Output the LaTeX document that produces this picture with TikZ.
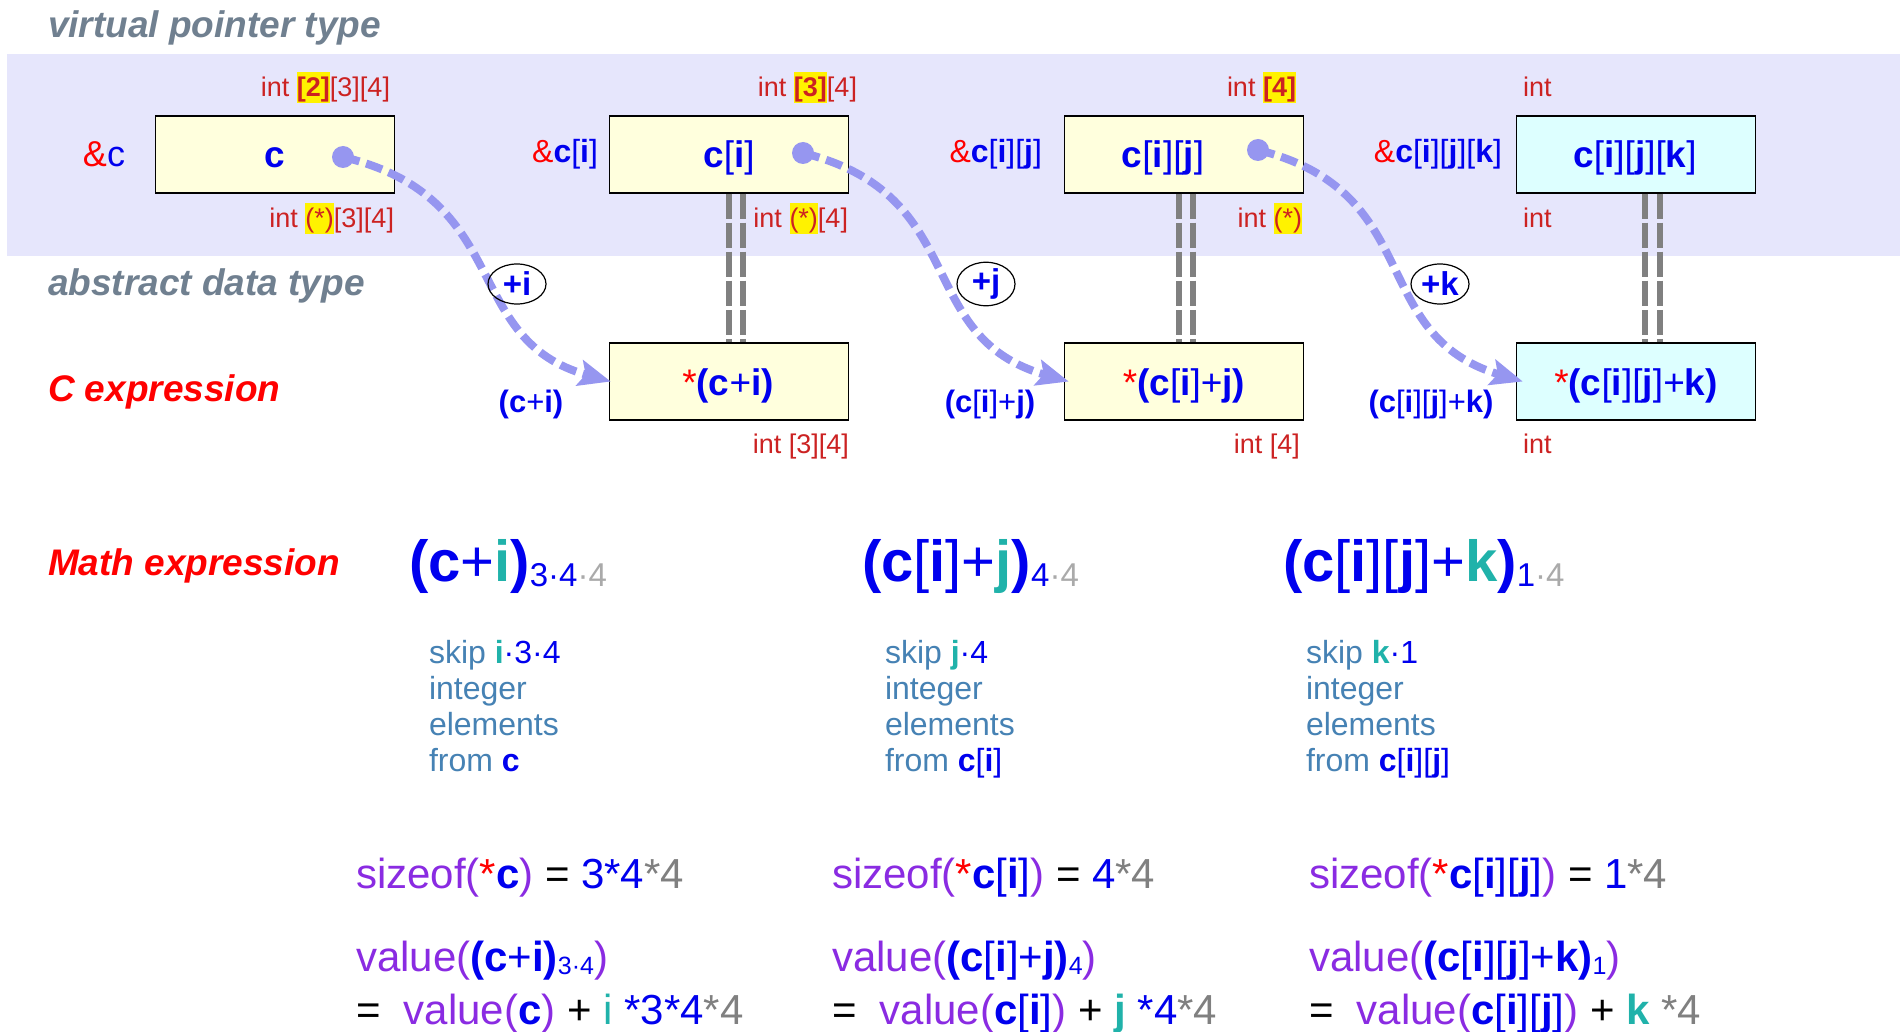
\documentclass[tikz,border=0pt]{standalone}
\usepackage{fontspec}
\setmainfont{Liberation Sans}
\usetikzlibrary{arrows.meta,shapes.geometric}
\definecolor{cblue}{RGB}{0,0,238}
\definecolor{cred}{RGB}{255,0,0}
\definecolor{ired}{RGB}{204,34,34}
\definecolor{teal2}{RGB}{32,178,170}
\definecolor{lgray}{RGB}{170,170,170}
\definecolor{mgray}{RGB}{128,128,128}
\definecolor{purp}{RGB}{138,43,226}
\definecolor{steel}{RGB}{70,130,180}
\definecolor{slate}{RGB}{112,128,144}
\definecolor{bandc}{RGB}{230,230,252}
\definecolor{boxy}{RGB}{255,255,221}
\definecolor{boxc}{RGB}{221,255,255}
\definecolor{ptrc}{RGB}{150,150,240}
\newcommand\fsz[1]{\fontsize{#1}{#1}\selectfont}
\newcommand\hly[1]{{\setlength{\fboxsep}{0pt}\colorbox{yellow}{\rule[-0.22em]{0pt}{1.15em}#1}}}
\newcommand\xci{\textbf{c}[\textbf{i}]}
\newcommand\xcij{\textbf{c}[\textbf{i}][\textbf{j}]}
\newcommand\xcijk{\textbf{c}[\textbf{i}][\textbf{j}][\textbf{k}]}
\tikzset{
  ybox/.style={draw=black, line width=1.5pt, fill=boxy, minimum width=239pt, minimum height=77pt, inner sep=0pt},
  cbox/.style={ybox, fill=boxc},
  lbl/.style={inner sep=0pt, outer sep=0pt},
  title/.style={lbl, anchor=base west, font=\fsz{37}\bfseries\itshape, text=slate},
  rtitle/.style={lbl, anchor=base west, font=\fsz{37}\bfseries\itshape, text=cred},
  tlab/.style={lbl, font=\fsz{27}, text=ired},
  boxtxt/.style={lbl, anchor=base, font=\fsz{37}, text=cblue},
  adr/.style={lbl, anchor=base east, font=\fsz{32}, text=cblue},
  ptr/.style={draw=ptrc, line width=8pt, dash pattern=on 17pt off 7pt, -{Stealth[length=32pt,width=26pt,inset=6pt]}},
  dbl/.style={draw=mgray, line width=6pt, dash pattern=on 25pt off 4pt},
  opell/.style={draw=black, line width=1.2pt, ellipse, minimum width=58pt, minimum height=40pt, inner sep=0pt, font=\fsz{33}\bfseries, text=cblue},
  ptrdot/.style={circle, fill=ptrc, minimum size=22pt, inner sep=0pt},
  mathx/.style={lbl, anchor=base west, font=\fsz{58}, text=cblue},
  skiptxt/.style={lbl, anchor=base west, font=\fsz{32}, text=steel},
  eqtxt/.style={lbl, anchor=base west, font=\fsz{42}, text=black},
  exprl/.style={lbl, anchor=base, font=\fsz{31}, text=cblue},
}
\begin{document}
\begin{tikzpicture}[x=1pt,y=-1pt]
\useasboundingbox (0,0) rectangle (1900,1032);
\fill[white] (0,0) rectangle (1900,1032);
\fill[bandc] (7,54) rectangle (1900,256);

% titles
\node[title] (ttl1) at (48,38) {virtual pointer type};
\node[title] (ttl2) at (48,295) {abstract data type};
\node[rtitle] (ttl3) at (48,401) {C expression};
\node[rtitle] (ttl4) at (48,575) {Math expression};

% boxes
\node[ybox] (b1) at (275,154.5) {};
\node[ybox] (b2) at (729,154.5) {};
\node[ybox] (b3) at (1184,154.5) {};
\node[cbox] (b4) at (1636,154.5) {};
\node[ybox] (b5) at (729,381.5) {};
\node[ybox] (b6) at (1184,381.5) {};
\node[cbox] (b7) at (1636,381.5) {};

% double dashed links
\draw[dbl] ([xshift=-0.5pt]b2.south) -- ([xshift=-0.5pt]b5.north);
\draw[dbl] ([xshift=14pt]b2.south) -- ([xshift=14pt]b5.north);
\draw[dbl] ([xshift=-5pt]b3.south) -- ([xshift=-5pt]b6.north);
\draw[dbl] ([xshift=9pt]b3.south) -- ([xshift=9pt]b6.north);
\draw[dbl] ([xshift=9pt]b4.south) -- ([xshift=9pt]b7.north);
\draw[dbl] ([xshift=24pt]b4.south) -- ([xshift=24pt]b7.north);

% pointer dots
\coordinate (d1) at (343,157);
\coordinate (d2) at (803,153);
\coordinate (d3) at (1258,150);

% pointer curves
\draw[ptr] (d1) .. controls (515,198) and (460,340) .. ([xshift=2pt]b5.west);
\draw[ptr] (d2) .. controls (972,195) and (912,337) .. ([xshift=5pt]b6.west);
\draw[ptr] (d3) .. controls (1427,192) and (1366,335) .. ([xshift=7pt]b7.west);
\node[ptrdot] (p1) at (d1) {};
\node[ptrdot] (p2) at (d2) {};
\node[ptrdot] (p3) at (d3) {};

% operator ellipses
\node[opell] (o1) at (517,284) {+i};
\node[opell] (o2) at (986,284) {+j};
\node[opell] (o3) at (1440,284) {+k};

% box texts
\node[boxtxt] (tb1) at (275,168) {\textbf{c}};
\node[boxtxt] (tb2) at (729,168) {\xci};
\node[boxtxt] (tb3) at (1163,168) {\xcij};
\node[boxtxt] (tb4) at (1635,168) {\xcijk};
\node[boxtxt] (tb5) at (728,395) {\textcolor{cred}{*}\textbf{(c}+\textbf{i)}};
\node[boxtxt] (tb6) at (1184,395) {\textcolor{cred}{*}\textbf{(}\xci+\textbf{j)}};
\node[boxtxt] (tb7) at (1636,395) {\textcolor{cred}{*}\textbf{(}\xcij+\textbf{k)}};

% address labels
\node[lbl, anchor=base east, font=\fsz{36}, text=cblue] (a1) at (125,167) {\textcolor{cred}{\&}c};
\node[adr] (a2) at (598,163) {\textcolor{cred}{\&}\xci};
\node[adr] (a3) at (1042,163) {\textcolor{cred}{\&}\xcij};
\node[adr] (a4) at (1502,163) {\textcolor{cred}{\&}\xcijk};

% type labels
\node[tlab, anchor=base east] (u1) at (390,97) {int \hly{\textbf{[2]}}[3][4]};
\node[tlab, anchor=base east] (u2) at (857,97) {int \hly{\textbf{[3]}}[4]};
\node[tlab, anchor=base east] (u3) at (1296,97) {int \hly{\textbf{[4]}}};
\node[tlab, anchor=base west] (u4) at (1523,97) {int};
\node[tlab, anchor=base east] (v1) at (394,228) {int \hly{(*)}[3][4]};
\node[tlab, anchor=base east] (v2) at (848,228) {int \hly{(*)}[4]};
\node[tlab, anchor=base east] (v3) at (1302,228) {int \hly{(*)}};
\node[tlab, anchor=base west] (v4) at (1523,228) {int};
\node[tlab, anchor=base east] (w1) at (849,453) {int [3][4]};
\node[tlab, anchor=base east] (w2) at (1300,453) {int [4]};
\node[tlab, anchor=base west] (w3) at (1523,453) {int};

% expression labels
\node[exprl] (e1) at (531,412) {\textbf{(c}+\textbf{i)}};
\node[exprl] (e2) at (990,412) {\textbf{(}\xci+\textbf{j)}};
\node[exprl] (e3) at (1431,412) {\textbf{(}\xcij+\textbf{k)}};

% math expressions
\node[mathx] (m1) at (409,581) {\textbf{(c}+\textcolor{teal2}{\textbf{i}}\textbf{)}\raisebox{-5pt}{\fsz{33}3·4\textcolor{lgray}{·4}}};
\node[mathx] (m2) at (862,581) {\textbf{(}\xci+\textcolor{teal2}{\textbf{j}}\textbf{)}\raisebox{-5pt}{\fsz{33}4\textcolor{lgray}{·4}}};
\node[mathx] (m3) at (1283,581) {\textbf{(}\xcij+\textcolor{teal2}{\textbf{k}}\textbf{)}\raisebox{-5pt}{\fsz{33}1\textcolor{lgray}{·4}}};

% skip blocks
\node[skiptxt] (s11) at (429,663) {skip \textcolor{teal2}{\textbf{i}}\textcolor{cblue}{·3·4}};
\node[skiptxt] (s12) at (429,699) {integer};
\node[skiptxt] (s13) at (429,735) {elements};
\node[skiptxt] (s14) at (429,771) {from \textcolor{cblue}{\textbf{c}}};
\node[skiptxt] (s21) at (885,663) {skip \textcolor{teal2}{\textbf{j}}\textcolor{cblue}{·4}};
\node[skiptxt] (s22) at (885,699) {integer};
\node[skiptxt] (s23) at (885,735) {elements};
\node[skiptxt] (s24) at (885,771) {from \textcolor{cblue}{\xci}};
\node[skiptxt] (s31) at (1306,663) {skip \textcolor{teal2}{\textbf{k}}\textcolor{cblue}{·1}};
\node[skiptxt] (s32) at (1306,699) {integer};
\node[skiptxt] (s33) at (1306,735) {elements};
\node[skiptxt] (s34) at (1306,771) {from \textcolor{cblue}{\xcij}};

% sizeof lines
\node[eqtxt] (z1) at (356,888) {\textcolor{purp}{sizeof(}\textcolor{cred}{*}\textcolor{cblue}{\textbf{c}}\textcolor{purp}{)} = \textcolor{cblue}{3*4}\textcolor{mgray}{*4}};
\node[eqtxt] (z2) at (832,888) {\textcolor{purp}{sizeof(}\textcolor{cred}{*}\textcolor{cblue}{\xci}\textcolor{purp}{)} = \textcolor{cblue}{4}\textcolor{mgray}{*4}};
\node[eqtxt] (z3) at (1309,888) {\textcolor{purp}{sizeof(}\textcolor{cred}{*}\textcolor{cblue}{\xcij}\textcolor{purp}{)} = \textcolor{cblue}{1}\textcolor{mgray}{*4}};

% value lines
\node[eqtxt] (y1) at (356,971) {\textcolor{purp}{value(}\textcolor{cblue}{\textbf{(c}+\textbf{i)}\raisebox{-3pt}{\fsz{25}3·4}}\textcolor{purp}{)}};
\node[eqtxt] (y2) at (832,971) {\textcolor{purp}{value(}\textcolor{cblue}{\textbf{(}\xci+\textbf{j)}\raisebox{-3pt}{\fsz{25}4}}\textcolor{purp}{)}};
\node[eqtxt] (y3) at (1309,971) {\textcolor{purp}{value(}\textcolor{cblue}{\textbf{(}\xcij+\textbf{k)}\raisebox{-3pt}{\fsz{25}1}}\textcolor{purp}{)}};

\node[eqtxt] (x1) at (356,1024) {=\ \ \textcolor{purp}{value(}\textcolor{cblue}{\textbf{c}}\textcolor{purp}{)} + \textcolor{teal2}{i} \textcolor{cblue}{*3*4}\textcolor{mgray}{*4}};
\node[eqtxt] (x2) at (832,1024) {=\ \ \textcolor{purp}{value(}\textcolor{cblue}{\xci}\textcolor{purp}{)} + \textcolor{teal2}{\textbf{j}} \textcolor{cblue}{*4}\textcolor{mgray}{*4}};
\node[eqtxt] (x3) at (1309,1024) {=\ \ \textcolor{purp}{value(}\textcolor{cblue}{\xcij}\textcolor{purp}{)} + \textcolor{teal2}{\textbf{k}} \textcolor{mgray}{*4}};
\end{tikzpicture}
\end{document}
